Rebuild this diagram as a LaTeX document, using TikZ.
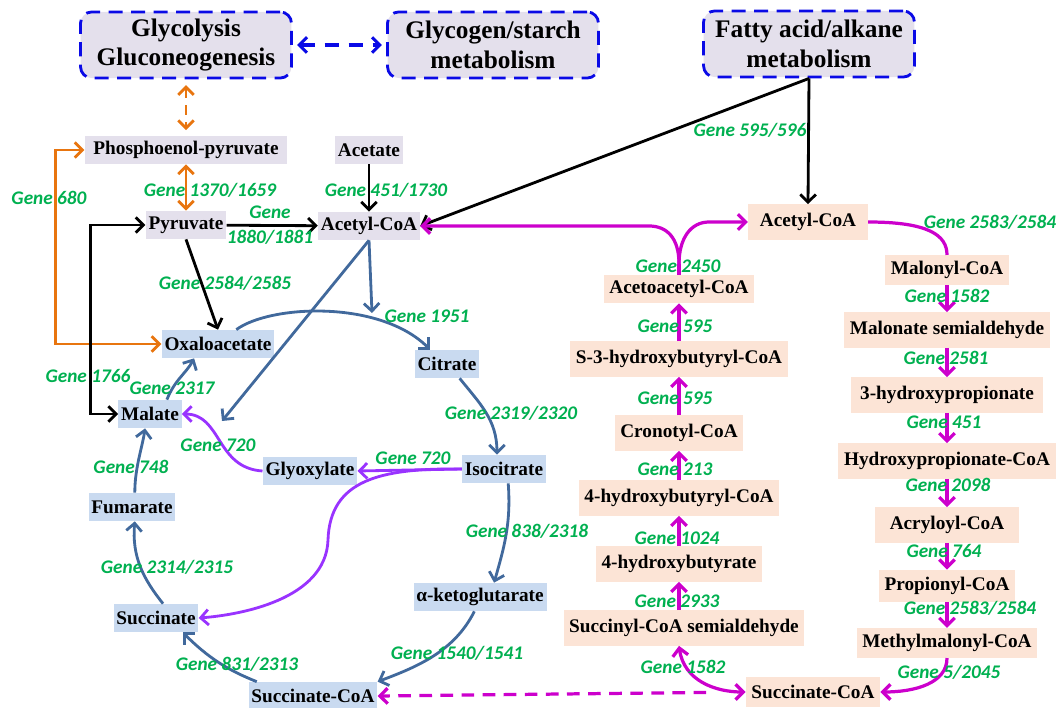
\documentclass[tikz,border=0pt]{standalone}
\usepackage{fontspec}
\setmainfont{Liberation Serif}
\newfontfamily\genefont{Carlito}
\usetikzlibrary{arrows.meta,calc}

\definecolor{lav}{HTML}{E4E0EC}
\definecolor{tcabg}{HTML}{C9DAF0}
\definecolor{peach}{HTML}{FCE4D6}
\definecolor{dblue}{HTML}{0A0AE6}
\definecolor{ggreen}{HTML}{00B050}
\definecolor{tcaline}{HTML}{41699C}
\definecolor{purp}{HTML}{9933FF}
\definecolor{magc}{HTML}{CC00CC}
\definecolor{orng}{HTML}{E8750F}

\begin{document}
\begin{tikzpicture}[
    x=0.025cm, y=-0.025cm,
    >={Straight Barb[length=5.5pt,width=11pt]},
    pw/.style={%
      draw=dblue, line width=2pt, dash pattern=on 10pt off 6pt,
      rounded corners=8pt, fill=lav, align=center,
      minimum width=150pt, minimum height=47pt,
      font=\fontsize{18}{21}\selectfont\bfseries,
    },
    mol/.style={%
      rectangle, fill=lav, inner xsep=2pt, inner ysep=0pt,
      minimum height=20pt,
      font=\fontsize{13.7}{16}\selectfont\bfseries,
    },
    tca/.style={mol, fill=tcabg},
    fat/.style={mol, fill=peach, inner xsep=4pt, minimum height=25pt},
    gene/.style={%
      text=ggreen, inner sep=0pt, align=center,
      font=\genefont\fontsize{13.7}{17.8}\selectfont\bfseries\itshape,
    },
    blk/.style={draw=black, line width=2pt, ->},
    org/.style={draw=orng, line width=2pt, ->},
    tcl/.style={draw=tcaline, line width=2pt, ->},
    pur/.style={draw=purp, line width=2pt, ->},
    mag/.style={draw=magc, line width=2.3pt, ->},
  ]
    \useasboundingbox (0,0) rectangle (1059,708);

    % pathways
    \node [pw] (glyc) at (186,45) {Glycolysis\\Gluconeogenesis};
    \node [pw] (glycogen) at (493,45) {Glycogen/starch\\metabolism};
    \node [pw] (fatty) at (809,44) {Fatty acid/alkane\\metabolism};

    \node [mol, minimum width=144pt] (pep) at (186,150) {Phosphoenol-pyruvate};
    \node [mol] (acet) at (369,150) {Acetate};
    \node [mol] (pyr) at (186,225) {Pyruvate};
    \node [mol] (accoa) at (369,226) {Acetyl-CoA};

    % TCA cycle
    \node [tca] (oxa) at (218,344) {Oxaloacetate};
    \node [tca] (cit) at (447,364) {Citrate};
    \node [tca] (mal) at (150,414) {Malate};
    \node [tca] (glx) at (310,471) {Glyoxylate};
    \node [tca] (iso) at (504,469) {Isocitrate};
    \node [tca] (akg) at (480,597) {α-ketoglutarate};
    \node [tca] (fum) at (132,507) {Fumarate};
    \node [tca] (suc) at (156,618) {Succinate};
    \node [tca] (scoaL) at (313,696) {Succinate-CoA};

    % right side
    \node [fat, minimum width=85pt] (accoaR) at (808,222) {Acetyl-CoA};
    \node [fat, minimum height=21pt] (malcoa) at (947,270) {Malonyl-CoA};
    \path (malcoa) ++(0,60) node [fat] (malsa) {Malonate semialdehyde};
    \path (malsa) ++(0,65) node [fat, minimum width=137pt] (hp) {3-hydroxypropionate};
    \path (hp) ++(0,66) node [fat] (hpcoa) {Hydroxypropionate-CoA};
    \path (hpcoa) ++(0,64) node [fat, minimum width=102pt] (acr) {Acryloyl-CoA};
    \path (acr) ++(0,61) node [fat, minimum height=23pt] (prop) {Propionyl-CoA};
    \path (prop) ++(0,57) node [fat, minimum height=21pt] (mmcoa) {Methylmalonyl-CoA};
    \node [fat, minimum height=21pt] (scoaR) at (813,692) {Succinate-CoA};

    \node [fat, minimum height=20pt] (acac) at (679,289) {Acetoacetyl-CoA};
    \path (acac) ++(0,70) node [fat] (s3hb) {S-3-hydroxybutyryl-CoA};
    \path (s3hb) ++(0,74) node [fat] (cro) {Cronotyl-CoA};
    \path (cro) ++(0,65) node [fat] (hbcoa) {4-hydroxybutyryl-CoA};
    \path (hbcoa) ++(0,66) node [fat] (hb) {4-hydroxybutyrate};
    \node [fat] (ssa) at (684,628) {Succinyl-CoA semialdehyde};

    \coordinate (fork) at (679,264);
    \coordinate (arcpt) at (372,313);
    \coordinate (malpt) at (222,421);
    \coordinate (sbend) at (328,540);

    % top links
    \draw [draw=dblue, line width=2.2pt, dash pattern=on 10pt off 7pt, <->,
      shorten <=3pt, shorten >=3pt] (glyc) -- (glycogen);
    \draw [org, dash pattern=on 7pt off 5pt, <->, shorten <=4pt, shorten >=4pt] (glyc) -- (pep);
    \draw [org, <->] (pep) -- (pyr);
    \draw [org, <->] (pep.west) -- ++(-29,0) |- (oxa.west);
    \draw [blk, <->] (pyr.west) -- ++(-55,0) |- (mal.west);
    \draw [blk] (acet) -- (accoa);
    \draw [blk] (pyr) -- (accoa);
    \draw [blk] (pyr.south) -- (oxa.north);
    \draw [blk] (fatty.south) -- (accoa.east);
    \draw [blk] (fatty.south) -- (accoaR.north);

    % cycle arrows
    \draw [tcl] (accoa.south) -- (arcpt);
    \draw [tcl] (accoa.south) -- (malpt);
    \draw [tcl] ([xshift=13pt]oxa.north) .. controls +(34,-25) and +(-50,-50) .. ([xshift=-12pt]cit.north);
    \draw [tcl] ([xshift=9pt]cit.south) .. controls +(20,25) and +(0,-35) .. ([xshift=-5pt]iso.north);
    \draw [tcl] ([xshift=3pt]iso.south) .. controls +(3,40) and +(10,-35) .. ([xshift=10pt]akg.north);
    \draw [tcl] ([xshift=-4pt]akg.south) .. controls +(-20,40) and +(40,-15) .. (scoaL.north east);
    \draw [tcl] ([xshift=-40pt]scoaL.north) .. controls +(-30,-12) and +(25,25) .. ([xshift=19pt]suc.south);
    \draw [tcl] ([xshift=5pt]suc.north) .. controls +(-20,-25) and +(-3,35) .. ([xshift=2pt]fum.south);
    \draw [tcl] ([xshift=2pt]fum.north) .. controls +(0,-25) and +(-3,20) .. ([xshift=-3.5pt]mal.south);
    \draw [tcl] ([xshift=12pt]mal.north) .. controls +(8,-20) and +(-8,15) .. ([xshift=-17pt]oxa.south);

    % glyoxylate shunt
    \draw [pur] (iso.west) -- (glx.east);
    \draw [pur] (glx.west) .. controls +(-47,-3) and +(40,0) .. (mal.east);
    \draw [pur] (iso.west) .. controls +(-82,-1) and +(2,-60) .. (sbend)
      .. controls +(-2,60) and +(40,-3) .. (suc.east);

    % magenta pathways
    \draw [mag, -] (acac.north) -- (fork);
    \draw [mag] (fork) .. controls +(0,-26) and +(18,0) .. ($(fork |- accoa.east)+(-30,0)$) -- (accoa.east);
    \draw [mag] (fork) .. controls +(0,-26) and +(-18,0) .. ($(fork |- accoaR.west)+(30,0)$) -- (accoaR.west);
    \draw [mag] (s3hb.north) -- (acac.south);
    \draw [mag] (cro.north) -- (s3hb.south);
    \draw [mag] (hbcoa.north) -- (cro.south);
    \draw [mag] (hb.north) -- (hbcoa.south);
    \draw [mag] (hb.south |- ssa.north) -- (hb.south);
    \draw [mag, <->] (hb.south |- ssa.south) .. controls +(5,35) and +(-30,0) .. (scoaR.west);
    \draw [mag, -] (accoaR.east) .. controls +(60,0) and +(0,-20) .. (malcoa.north);
    \draw [mag] (malcoa) -- (malsa);
    \draw [mag] (malsa) -- (hp);
    \draw [mag] (hp) -- (hpcoa);
    \draw [mag] (hpcoa) -- (acr);
    \draw [mag] (acr) -- (prop);
    \draw [mag] (prop) -- (mmcoa);
    \draw [mag] (mmcoa.south) .. controls +(0,25) and +(35,0) .. (scoaR.east);
    \draw [mag, dash pattern=on 9pt off 6pt, shorten <=28pt] (scoaR.west) -- (scoaL.east);

    % gene labels
    \node [gene] (g1370) at (210,190) {Gene 1370/1659};
    \node [gene] (g451) at (386,190) {Gene 451/1730};
    \node [gene] (g1880) at (270,225) {Gene\\1880/1881};
    \node [gene] (g680) at (49,198) {Gene 680};
    \node [gene] (g595a) at (750,130) {Gene 595/596};
    \node [gene] (g2584) at (225,283) {Gene 2584/2585};
    \node [gene] (g1951) at (427,316) {Gene 1951};
    \node [gene] (g1766) at (88,376) {Gene 1766};
    \node [gene] (g2317) at (172,388) {Gene 2317};
    \node [gene] (g2319) at (511,413) {Gene 2319/2320};
    \node [gene] (g720a) at (218,445) {Gene 720};
    \node [gene] (g720b) at (413,458) {Gene 720};
    \node [gene] (g748) at (131,467) {Gene 748};
    \node [gene] (g2314) at (167,567) {Gene 2314/2315};
    \node [gene] (g838) at (527,531) {Gene 838/2318};
    \node [gene] (g1540) at (457,653) {Gene 1540/1541};
    \node [gene] (g831) at (237,664) {Gene 831/2313};
    \node [gene] (g1582a) at (683,667) {Gene 1582};
    \node [gene] (g2933) at (677,601) {Gene 2933};
    \node [gene] (g1024) at (677,538) {Gene 1024};
    \node [gene] (g213) at (675,469) {Gene 213};
    \node [gene] (g595b) at (675,398) {Gene 595};
    \node [gene] (g595c) at (675,326) {Gene 595};
    \node [gene] (g2450) at (678,266) {Gene 2450};
    \node [gene] (g2583a) at (990,222) {Gene 2583/2584};
    \node [gene] (g1582b) at (947,296) {Gene 1582};
    \node [gene] (g2581) at (946,358) {Gene 2581};
    \node [gene] (g451b) at (944,422) {Gene 451};
    \node [gene] (g2098) at (948,485) {Gene 2098};
    \node [gene] (g764) at (944,551) {Gene 764};
    \node [gene] (g2583b) at (970,608) {Gene 2583/2584};
    \node [gene] (g5) at (949,672) {Gene 5/2045};
\end{tikzpicture}
\end{document}
